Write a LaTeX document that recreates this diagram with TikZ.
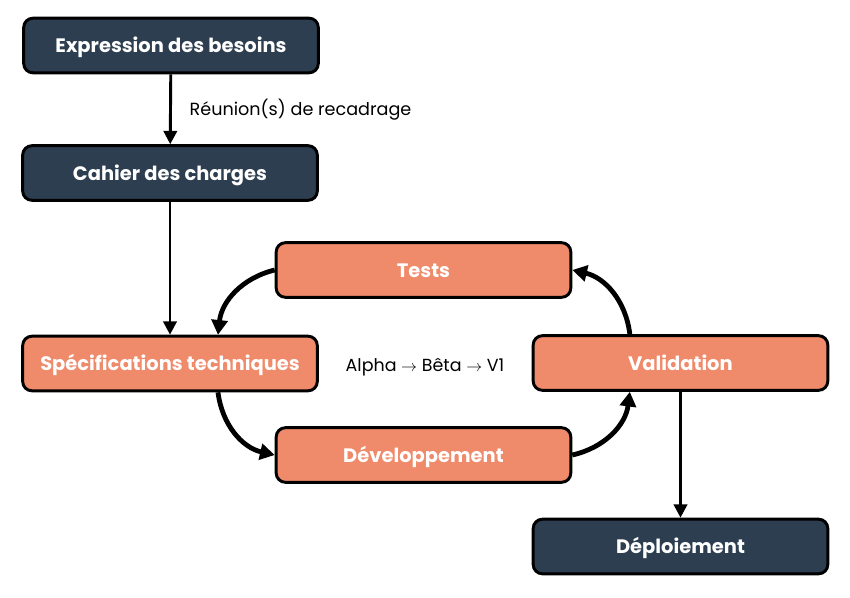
\documentclass[tikz,border=0pt]{standalone}
\usepackage{fontspec}
\setmainfont{Poppins}
\usetikzlibrary{arrows.meta}

\begin{document}
\begin{tikzpicture}[x=0.75pt, y=-0.75pt]
        % Farben
        \definecolor{ciDark}{HTML}{2C3E50}
        \definecolor{ciOrange}{HTML}{EF8A6A}

        \tikzset{
            etape/.style={draw=black, line width=2.2pt, rounded corners=7pt,
                minimum width=221pt, minimum height=41pt, inner sep=0pt,
                text height=1.3em, text depth=0.2em,
                text=white, font=\fontsize{14.6}{16}\selectfont\bfseries},
            sombre/.style={etape, fill=ciDark},
            clair/.style={etape, fill=ciOrange},
            fleche/.style={-{Triangle[length=10pt, width=10pt]}, line width=2.2pt},
            cycle/.style={-{Triangle[length=11pt, width=12pt]}, line width=3.6pt, bend right=35}
        }

        \useasboundingbox (0,0) rectangle (850,597);

        % Knoten: Name / x / y / Stil / Text
        \foreach \n/\x/\y/\s/\t in {
            besoins/171/45.5/sombre/Expression des besoins,
            cahier/170/173/sombre/Cahier des charges,
            specs/170/363.5/clair/Spécifications techniques,
            tests/423.5/270/clair/Tests,
            dev/423.5/455/clair/Développement,
            valid/680.5/363/clair/Validation,
            deploi/680.5/546.5/sombre/Déploiement}
        {
            \node[\s] (\n) at (\x,\y) {\t};
        }

        % Geradlinige Pfeile
        \draw[fleche] (besoins) -- (cahier)
            node[midway, right=10pt, font=\fontsize{13.2}{15}\selectfont] {Réunion(s) de recadrage};
        \draw[fleche] (cahier) -- (specs);
        \draw[fleche] (valid) -- (deploi);

        % Zyklus
        \draw[cycle] (tests.west) to ([xshift=36pt]specs.north);
        \draw[cycle] ([xshift=36pt]specs.south) to (dev.west);
        \draw[cycle] (dev.east) to ([xshift=-38pt]valid.south);
        \draw[cycle] ([xshift=-38pt]valid.north) to (tests.east);

        \node[font=\fontsize{13.1}{15}\selectfont] (boucle) at (425,367)
            {Alpha $\rightarrow$ Bêta $\rightarrow$ V1};
\end{tikzpicture}
\end{document}
